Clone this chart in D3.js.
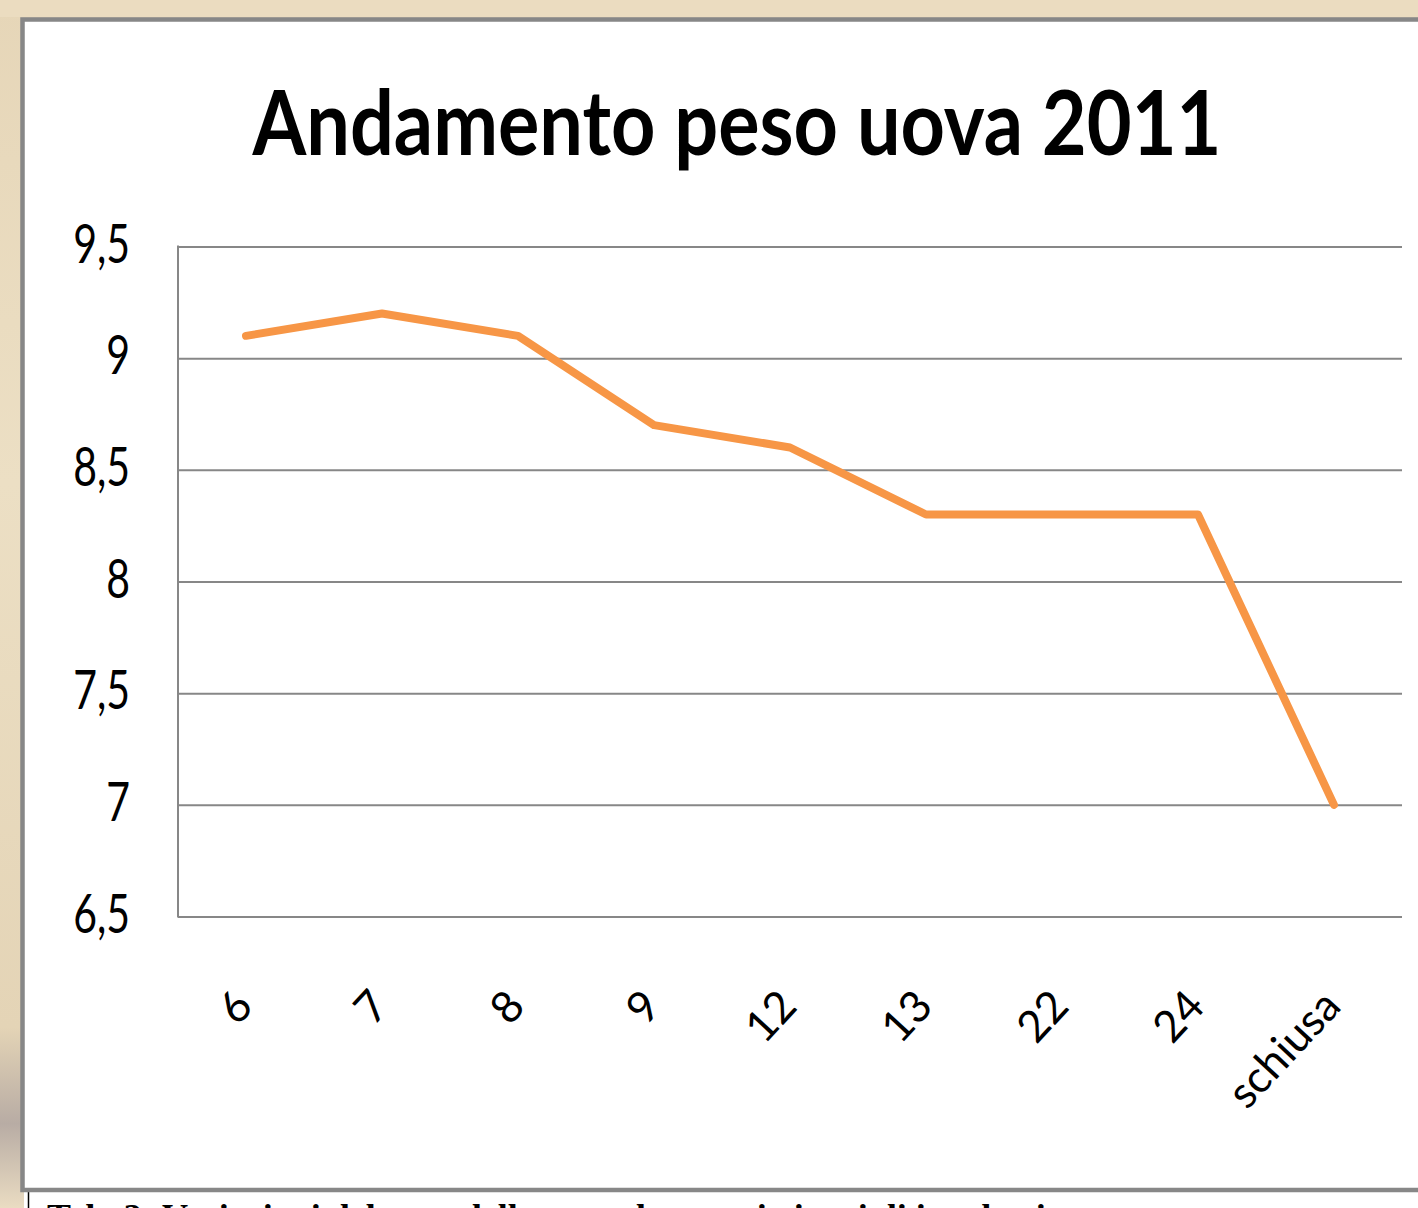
<!DOCTYPE html>
<html>
<head>
<meta charset="utf-8">
<script src="https://cdn.jsdelivr.net/npm/d3@7"></script>
<style>
  html, body { margin: 0; padding: 0; background: #ffffff; }
  svg { display: block; }
</style>
</head>
<body>
<svg id="chart"></svg>
<script>
// data
var giorni = ["6", "7", "8", "9", "12", "13", "22", "24", "schiusa"];
var peso = [9.1, 9.2, 9.1, 8.7, 8.6, 8.3, 8.3, 8.3, 7.0];
var yTicks = [6.5, 7, 7.5, 8, 8.5, 9, 9.5];
var titolo = "Andamento peso uova 2011";
var didascalia = "Tab. 3: Variazioni del peso delle uova durante i giorni di incubazione";

var screen = {width: 1418, height: 1208}
var plot = {left: 178, right: 1402, top: 246.5, bottom: 916.5}

var svg = d3.select("#chart")
    .attr("width", screen.width)
    .attr("height", screen.height)

// beige textured backdrop round the panel
var defs = svg.append("defs")
var grad = defs.append("linearGradient").attr("id", "beige")
    .attr("x1", 0).attr("y1", 0).attr("x2", 0).attr("y2", 1)
grad.append("stop").attr("offset", "0%").attr("stop-color", "#e6d6b8")
grad.append("stop").attr("offset", "40%").attr("stop-color", "#ecdfc4")
grad.append("stop").attr("offset", "85%").attr("stop-color", "#e4d4b6")
grad.append("stop").attr("offset", "93%").attr("stop-color", "#b8aca4")
grad.append("stop").attr("offset", "100%").attr("stop-color", "#eadcc2")

svg.append("rect").attr("width", screen.width).attr("height", screen.height)
    .attr("fill", "url(#beige)")
svg.append("rect").attr("x", 0).attr("y", 0).attr("width", screen.width).attr("height", 17)
    .attr("fill", "#ebdcc0")

// white strip under the panel with the caption (cut off by the page edge, as in the picture)
svg.append("rect").attr("x", 24).attr("y", 1190).attr("width", screen.width).attr("height", 20)
    .attr("fill", "#ffffff")
svg.append("line").attr("x1", 28.5).attr("x2", 28.5).attr("y1", 1192).attr("y2", 1208)
    .attr("stroke", "#000").attr("stroke-width", 1.5)
svg.append("text")
    .attr("x", 47).attr("y", 1229)
    .attr("font-family", "Liberation Serif")
    .attr("font-weight", "bold")
    .attr("font-size", 36)
    .attr("fill", "#000")
    .text(didascalia)

// chart panel
svg.append("rect")
    .attr("x", 22.5).attr("y", 19.5)
    .attr("width", 1500).attr("height", 1170.5)
    .attr("fill", "#ffffff")
    .attr("stroke", "#878787")
    .attr("stroke-width", 4.5)

// title, sized to fit the width seen in the picture
var title = svg.append("text")
    .attr("font-family", "Lato")
    .attr("font-weight", "bold")
    .attr("font-size", 100)
    .attr("text-anchor", "middle")
    .attr("fill", "#000")
    .text(titolo)
var tw = title.node().getComputedTextLength()
var tSize = 100 * 969 / tw
title.attr("font-size", tSize)
    .attr("transform", "translate(737,155) scale(1,1.15)")

var xScale = d3.scaleBand()
    .domain(giorni)
    .range([plot.left, plot.right])

var yScale = d3.scaleLinear()
    .domain([6.5, 9.5])
    .range([plot.bottom, plot.top])

var fmt = function(v){ return String(v).replace(".", ",") }

// gridlines
var yAxis = d3.axisLeft(yScale)
    .tickValues(yTicks)
    .tickSize(-(plot.right - plot.left))
    .tickFormat("")
var gy = svg.append("g")
    .attr("id", "yGrid")
    .attr("transform", "translate(" + plot.left + ",0)")
    .call(yAxis)
gy.select(".domain").remove()
gy.selectAll(".tick line").attr("stroke", "#878787").attr("stroke-width", 2)

// left axis line
svg.append("line")
    .attr("x1", plot.left).attr("x2", plot.left)
    .attr("y1", plot.top - 1).attr("y2", plot.bottom + 1)
    .attr("stroke", "#878787").attr("stroke-width", 2)

// y labels (stretched vertically like the picture)
svg.append("g").attr("id", "yLabels")
    .selectAll("text")
    .data(yTicks)
    .enter()
    .append("text")
    .attr("transform", function(d){ return "translate(130," + (yScale(d) + 16) + ") scale(1,1.3)" })
    .attr("text-anchor", "end")
    .attr("font-family", "Lato")
    .attr("font-size", 41)
    .attr("fill", "#000")
    .text(fmt)

// x labels, rotated
svg.append("g").attr("id", "xLabels")
    .selectAll("text")
    .data(giorni)
    .enter()
    .append("text")
    .attr("transform", function(d){
        var cx = xScale(d) + xScale.bandwidth() / 2
        return "translate(" + (cx + 9) + ",1008) rotate(-47)"
    })
    .attr("text-anchor", "end")
    .attr("font-family", "Lato")
    .attr("font-size", 44)
    .attr("fill", "#000")
    .text(function(d){ return d })

// the series line
var lineGenerator = d3.line()
    .x(function(d, i){ return xScale(giorni[i]) + xScale.bandwidth() / 2 })
    .y(function(d){ return yScale(d) })

svg.append("path")
    .datum(peso)
    .attr("d", lineGenerator)
    .attr("fill", "none")
    .attr("stroke", "#f79646")
    .attr("stroke-width", 8)
    .attr("stroke-linejoin", "round")
    .attr("stroke-linecap", "round")
</script>
</body>
</html>
